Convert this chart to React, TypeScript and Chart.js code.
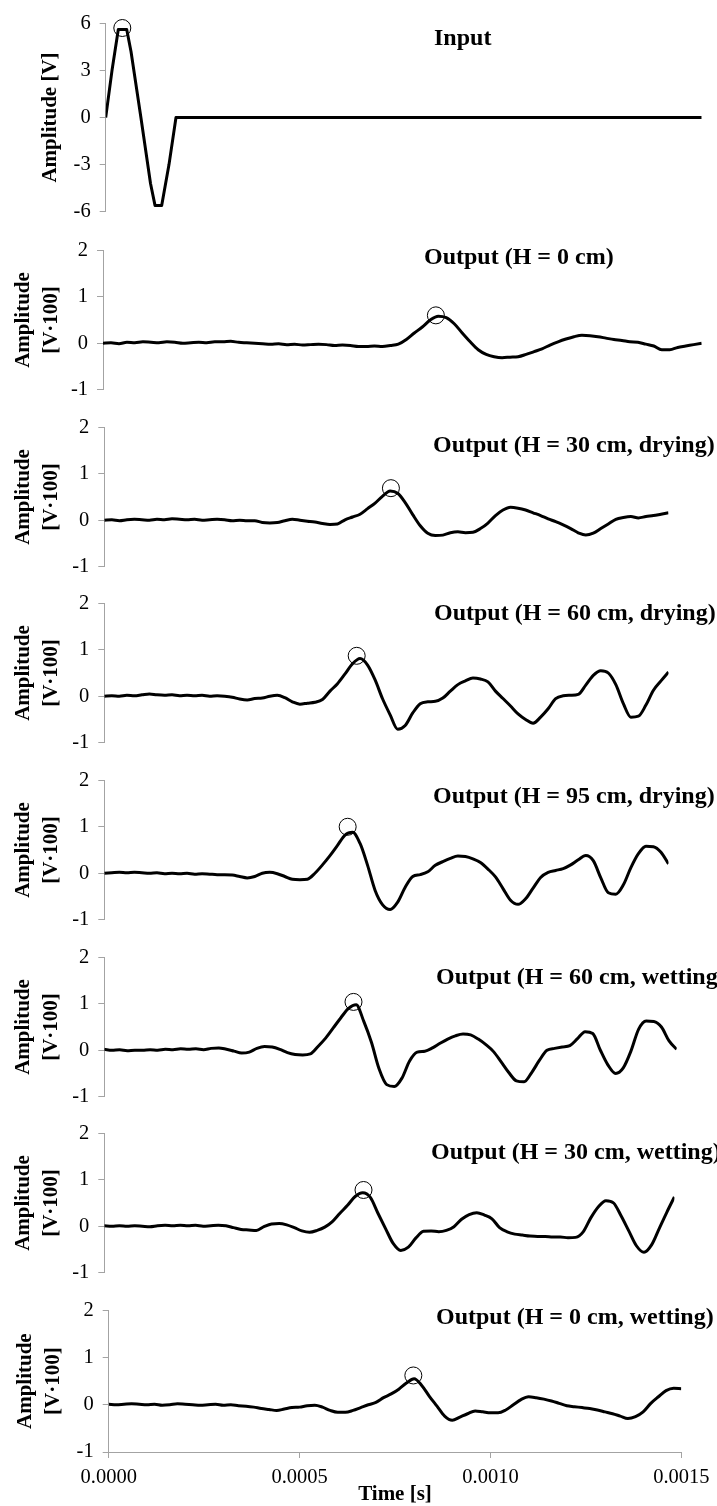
import React, { useEffect, useRef } from 'react';
import { Chart, registerables } from 'chart.js';

Chart.register(...registerables);

// ---------- data ----------
// shared time base of the measured outputs, in microseconds
const timeUs = [
  0, 20, 40, 60, 80, 100, 120, 140, 160, 180,
  200, 220, 240, 260, 280, 300, 320, 340, 360, 380,
  400, 420, 440, 460, 480, 500, 520, 540, 560, 580,
  600, 620, 640, 660, 680, 700, 720, 740, 760, 780,
  800, 820, 840, 860, 880, 900, 920, 940, 960, 980,
  1000, 1020, 1040, 1060, 1080, 1100, 1120, 1140, 1160, 1180,
  1200, 1220, 1240, 1260, 1280, 1300, 1320, 1340, 1360, 1380,
  1400, 1420, 1440, 1460, 1480, 1500,
];

// input pulse [V]
const inputTimeUs = [0, 15.9, 31.7, 52.9, 63.7, 88.6, 112.8, 124.1, 140.9, 159.3, 176.9, 1500];
const inputAmp = [0, 3.0, 5.6, 5.6, 4.2, 0, -4.2, -5.6, -5.6, -3.0, 0, 0];

// outputs [V·100]
const out0cm = [
  0.00, 0.01, -0.01, 0.02, 0.01, 0.03, 0.02, 0.01, 0.03, 0.02,
  0.00, 0.01, 0.02, 0.01, 0.03, 0.03, 0.04, 0.02, 0.01, 0.00,
  -0.01, -0.02, -0.01, -0.03, -0.02, -0.04, -0.03, -0.02, -0.03, -0.05,
  -0.04, -0.05, -0.07, -0.07, -0.06, -0.07, -0.05, -0.02, 0.08, 0.22,
  0.35, 0.50, 0.58, 0.55, 0.42, 0.22, 0.03, -0.14, -0.24, -0.29,
  -0.31, -0.30, -0.29, -0.24, -0.18, -0.12, -0.04, 0.03, 0.09, 0.14,
  0.17, 0.16, 0.14, 0.11, 0.08, 0.06, 0.03, 0.02, -0.02, -0.06,
  -0.14, -0.14, -0.09, -0.06, -0.03, 0.00,
];
const out30Dry = [
  0.00, 0.01, -0.01, 0.01, 0.02, 0.01, 0.00, 0.02, 0.01, 0.03,
  0.02, 0.01, 0.02, 0.00, 0.01, 0.02, 0.01, -0.01, 0.00, -0.01,
  -0.01, -0.05, -0.06, -0.05, -0.01, 0.02, 0.00, -0.02, -0.04, -0.07,
  -0.09, -0.08, 0.01, 0.07, 0.13, 0.25, 0.37, 0.52, 0.63, 0.58,
  0.38, 0.12, -0.12, -0.28, -0.33, -0.32, -0.27, -0.25, -0.27, -0.26,
  -0.18, -0.06, 0.10, 0.22, 0.28, 0.26, 0.22, 0.16, 0.10, 0.03,
  -0.03, -0.10, -0.18, -0.27, -0.32, -0.28, -0.18, -0.08, 0.02, 0.06,
  0.08, 0.05, 0.08, 0.10, 0.13, 0.16,
];
const out60Dry = [
  0.00, 0.01, 0.00, 0.02, 0.01, 0.03, 0.05, 0.03, 0.02, 0.03,
  0.01, 0.02, 0.01, 0.02, 0.00, 0.01, 0.00, -0.02, -0.06, -0.08,
  -0.05, -0.04, 0.00, 0.02, -0.03, -0.12, -0.17, -0.15, -0.13, -0.07,
  0.11, 0.27, 0.48, 0.70, 0.81, 0.67, 0.35, -0.06, -0.40, -0.71,
  -0.63, -0.36, -0.16, -0.12, -0.11, -0.04, 0.11, 0.25, 0.33, 0.39,
  0.37, 0.31, 0.11, -0.05, -0.21, -0.38, -0.50, -0.58, -0.45, -0.27,
  -0.05, 0.01, 0.02, 0.04, 0.24, 0.45, 0.55, 0.50, 0.25, -0.16,
  -0.45, -0.43, -0.19, 0.13, 0.33, 0.52,
];
const out95Dry = [
  0.00, 0.01, 0.02, 0.01, 0.02, 0.01, 0.00, 0.01, -0.01, 0.00,
  -0.01, 0.00, -0.02, -0.01, -0.02, -0.03, -0.03, -0.04, -0.07, -0.10,
  -0.07, 0.00, 0.02, -0.01, -0.07, -0.13, -0.14, -0.13, 0.00, 0.18,
  0.38, 0.60, 0.82, 0.88, 0.64, 0.17, -0.37, -0.68, -0.78, -0.62,
  -0.30, -0.07, -0.03, 0.03, 0.17, 0.25, 0.32, 0.37, 0.36, 0.31,
  0.23, 0.09, -0.08, -0.33, -0.58, -0.67, -0.55, -0.32, -0.09, 0.02,
  0.06, 0.10, 0.18, 0.29, 0.38, 0.27, -0.10, -0.42, -0.45, -0.25,
  0.12, 0.42, 0.58, 0.57, 0.45, 0.20,
];
const out60Wet = [
  0.02, 0.00, 0.01, -0.01, 0.00, 0.00, 0.01, 0.00, 0.02, 0.01,
  0.03, 0.02, 0.03, 0.01, 0.04, 0.05, 0.02, -0.02, -0.06, -0.04,
  0.04, 0.08, 0.07, 0.02, -0.05, -0.09, -0.10, -0.08, 0.08, 0.26,
  0.48, 0.70, 0.90, 0.98, 0.62, 0.17, -0.40, -0.74, -0.78, -0.60,
  -0.23, -0.04, -0.02, 0.05, 0.15, 0.24, 0.31, 0.35, 0.33, 0.24,
  0.12, -0.03, -0.25, -0.48, -0.66, -0.68, -0.48, -0.22, 0.00, 0.04,
  0.07, 0.10, 0.25, 0.40, 0.36, 0.00, -0.32, -0.50, -0.38, -0.02,
  0.45, 0.63, 0.62, 0.50, 0.20, 0.02,
];
const out30Wet = [
  0.01, 0.00, 0.01, 0.00, 0.01, 0.00, -0.01, 0.01, 0.02, 0.01,
  0.02, 0.01, 0.02, 0.00, 0.01, 0.02, 0.01, -0.03, -0.07, -0.08,
  -0.09, -0.01, 0.05, 0.06, 0.03, -0.03, -0.10, -0.13, -0.09, -0.02,
  0.10, 0.28, 0.45, 0.64, 0.72, 0.62, 0.28, -0.05, -0.37, -0.52,
  -0.45, -0.25, -0.11, -0.10, -0.12, -0.09, -0.01, 0.15, 0.25, 0.29,
  0.24, 0.16, -0.03, -0.12, -0.17, -0.19, -0.21, -0.22, -0.22, -0.23,
  -0.23, -0.25, -0.24, -0.12, 0.18, 0.42, 0.55, 0.50, 0.22, -0.10,
  -0.42, -0.56, -0.40, -0.05, 0.30, 0.63,
];
const out0Wet = [
  0.01, 0.00, 0.01, 0.02, 0.01, 0.00, 0.01, -0.01, 0.00, 0.02,
  0.01, 0.00, -0.01, 0.00, 0.01, -0.01, 0.00, -0.02, -0.03, -0.05,
  -0.08, -0.10, -0.12, -0.09, -0.06, -0.05, -0.02, -0.01, -0.05, -0.12,
  -0.16, -0.16, -0.12, -0.06, 0.00, 0.05, 0.15, 0.23, 0.33, 0.46,
  0.55, 0.41, 0.18, -0.03, -0.24, -0.33, -0.26, -0.19, -0.13, -0.15,
  -0.17, -0.17, -0.11, 0.00, 0.11, 0.17, 0.15, 0.12, 0.08, 0.03,
  -0.02, -0.04, -0.06, -0.08, -0.11, -0.15, -0.19, -0.24, -0.29, -0.25,
  -0.15, 0.03, 0.17, 0.30, 0.35, 0.34,
];

// first-arrival peak markers (one per panel)
const peakTimeUs = [41.8, 834, 762, 671, 647, 653, 682, 798];
const peakAmp = [5.7, 0.6, 0.69, 0.87, 1.0, 1.04, 0.78, 0.62];

const panelTitles = [
  'Input',
  'Output (H = 0 cm)',
  'Output (H = 30 cm, drying)',
  'Output (H = 60 cm, drying)',
  'Output (H = 95 cm, drying)',
  'Output (H = 60 cm, wetting)',
  'Output (H = 30 cm, wetting)',
  'Output (H = 0 cm, wetting)',
];

const inputTicks = [-6, -3, 0, 3, 6];
const ampTicks = [-1, 0, 1, 2];
const timeTickValues = [0, 0.0005, 0.001, 0.0015];
const timeTickLabels = ['0.0000', '0.0005', '0.0010', '0.0015'];

// ---------- styling / layout ----------
const FONT = "'Liberation Serif', 'Times New Roman', serif";
const AXIS_GRAY = '#a3a3a3';
const PAD = 16;
const PAGE_W = 717;
const PAGE_H = 1506;

const seriesByPanel = [
  { t: inputTimeUs, v: inputAmp },
  { t: timeUs, v: out0cm },
  { t: timeUs, v: out30Dry },
  { t: timeUs, v: out60Dry },
  { t: timeUs, v: out95Dry },
  { t: timeUs, v: out60Wet },
  { t: timeUs, v: out30Wet },
  { t: timeUs, v: out0Wet },
];

const layout = [
  { top: 17.5, bottom: 216.5, axisX: 105.7, endX: 701.7, titleX: 434, titleY: 38, yPad: 36.8 },
  { top: 245, bottom: 395, axisX: 103, endX: 701.7, titleX: 424, titleY: 258, yPad: 9.5 },
  { top: 421.7, bottom: 571.7, axisX: 104.3, endX: 668.5, titleX: 433, titleY: 445, yPad: 9.5 },
  { top: 597.7, bottom: 747.7, axisX: 104.3, endX: 668.5, titleX: 434, titleY: 613, yPad: 9.5 },
  { top: 775, bottom: 925, axisX: 104.3, endX: 668.5, titleX: 433, titleY: 797, yPad: 9.5 },
  { top: 951.7, bottom: 1101.7, axisX: 104.3, endX: 676.7, titleX: 436, titleY: 977, yPad: 9.5 },
  { top: 1128.3, bottom: 1278.3, axisX: 104.3, endX: 674.4, titleX: 431, titleY: 1153, yPad: 9.5 },
  { top: 1305, bottom: 1452, axisX: 108.7, endX: 681.7, titleX: 436, titleY: 1318, yPad: 11.8 },
];

const panelTitlePlugin = {
  id: 'panelTitle',
  afterDraw(chart: any, _args: any, opts: any) {
    const { ctx } = chart;
    ctx.save();
    ctx.font = `bold 24px ${FONT}`;
    ctx.fillStyle = '#000';
    ctx.textAlign = 'left';
    ctx.textBaseline = 'middle';
    ctx.fillText(opts.text, opts.x, opts.y);
    ctx.restore();
  },
};

function Panel({ index }: { index: number }) {
  const ref = useRef<HTMLCanvasElement | null>(null);
  const L = layout[index];
  const isInput = index === 0;
  const isBottom = index === layout.length - 1;
  const canvasTop = L.top - PAD;
  const canvasH = isBottom ? PAGE_H - canvasTop : L.bottom - L.top + 2 * PAD;

  useEffect(() => {
    if (!ref.current) return;
    const s = seriesByPanel[index];
    const ticks = isInput ? inputTicks : ampTicks;
    const chart = new Chart(ref.current, {
      type: 'line',
      data: {
        datasets: [
          {
            data: [{ x: peakTimeUs[index] * 1e-6, y: peakAmp[index] }],
            showLine: false,
            pointRadius: 8.5,
            pointBorderWidth: 1,
            pointBorderColor: '#000',
            pointBackgroundColor: 'rgba(0,0,0,0)',
            borderColor: '#000',
            clip: false as any,
            order: 0,
          },
          {
            data: s.t.map((t, i) => ({ x: t * 1e-6, y: s.v[i] })),
            borderColor: '#000',
            borderWidth: 3,
            pointRadius: 0,
            tension: 0,
            cubicInterpolationMode: isInput ? 'default' : 'monotone',
            borderJoinStyle: 'round',
            fill: false,
            order: 1,
          },
        ],
      },
      options: {
        animation: false,
        responsive: false,
        maintainAspectRatio: false,
        events: [],
        layout: {
          padding: { top: PAD, bottom: isBottom ? 0 : PAD, left: 0, right: PAGE_W - L.endX },
        },
        plugins: {
          legend: { display: false },
          tooltip: { enabled: false },
          // @ts-ignore
          panelTitle: { text: panelTitles[index], x: L.titleX, y: L.titleY - canvasTop },
        },
        scales: {
          x: {
            type: 'linear',
            min: 0,
            max: 0.0015,
            display: isBottom,
            afterBuildTicks: (sc: any) => {
              sc.ticks = timeTickValues.map((v) => ({ value: v }));
            },
            afterFit: (sc: any) => {
              if (isBottom) sc.height = PAGE_H - L.bottom;
            },
            grid: {
              display: true,
              drawOnChartArea: false,
              drawTicks: true,
              tickLength: 6,
              color: AXIS_GRAY,
              lineWidth: 1,
            },
            border: { display: true, color: AXIS_GRAY, width: 1 },
            ticks: {
              autoSkip: false,
              maxRotation: 0,
              padding: 7.5,
              color: '#000',
              font: { family: FONT, size: 20.5 },
              callback: (_v: any, i: number) => timeTickLabels[i],
            },
            title: {
              display: true,
              text: 'Time [s]',
              color: '#000',
              font: { family: FONT, size: 21, weight: 'bold', lineHeight: 1.2 },
              padding: { top: 0, bottom: -1 },
            },
          },
          y: {
            type: 'linear',
            min: ticks[0],
            max: ticks[ticks.length - 1],
            afterBuildTicks: (sc: any) => {
              sc.ticks = ticks.map((v) => ({ value: v }));
            },
            afterFit: (sc: any) => {
              sc.width = L.axisX;
            },
            grid: {
              display: true,
              drawOnChartArea: false,
              drawTicks: true,
              tickLength: 6,
              color: AXIS_GRAY,
              lineWidth: 1,
            },
            border: { display: true, color: AXIS_GRAY, width: 1 },
            ticks: {
              padding: 9,
              color: '#000',
              font: { family: FONT, size: 20.5 },
              callback: (v: any) => String(v),
            },
            title: {
              display: true,
              text: isInput ? 'Amplitude [V]' : ['Amplitude', '[V·100]'],
              color: '#000',
              font: { family: FONT, size: 21, weight: 'bold', lineHeight: 1.33 },
              padding: { top: L.yPad, bottom: 0 },
            },
          },
        },
      } as any,
      plugins: [panelTitlePlugin as any],
    });
    return () => chart.destroy();
  }, []);

  return (
    <canvas
      ref={ref}
      width={PAGE_W}
      height={canvasH}
      style={{ position: 'absolute', left: 0, top: canvasTop, width: PAGE_W, height: canvasH }}
    />
  );
}

export default function App() {
  return (
    <div
      style={{
        position: 'absolute',
        left: 0,
        top: 0,
        width: PAGE_W,
        height: PAGE_H,
        overflow: 'hidden',
        background: '#fff',
      }}
    >
      {layout.map((_, i) => (
        <Panel key={i} index={i} />
      ))}
    </div>
  );
}
